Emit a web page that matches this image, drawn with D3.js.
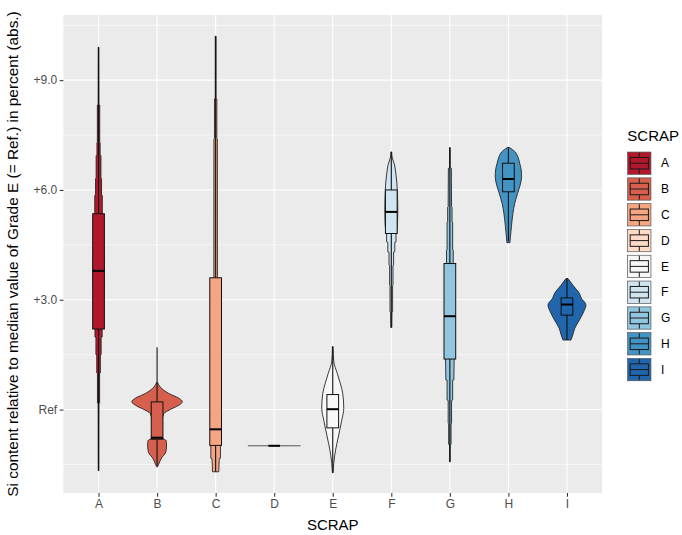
<!DOCTYPE html>
<html>
<head>
<meta charset="utf-8">
<script src="https://cdn.jsdelivr.net/npm/d3@7"></script>
<style>
  html, body { margin: 0; padding: 0; background: #ffffff; }
  svg { display: block; font-family: "Liberation Sans", Arial, sans-serif; }
</style>
</head>
<body>
<svg id="chart" width="682" height="535"></svg>
<script>
// ---------------- data ----------------
const categories = ["A", "B", "C", "D", "E", "F", "G", "H", "I"];
const fillColors = ["#B2182B", "#D6604D", "#F4A582", "#FDDBC7", "#F7F7F7", "#D1E5F0", "#92C5DE", "#4393C3", "#2166AC"];

// box-plot statistics (value relative to Ref, percent abs.)
const whiskerLow  = [-1.67, -1.56, -1.70, -0.99, -1.73, 2.24, -1.43, 4.60, 1.90];
const quartile1   = [ 2.20, -0.81, -0.98, -0.99, -0.50, 4.81,  1.38, 5.95, 2.58];
const medians     = [ 3.79, -0.77, -0.54, -0.99,  0.01, 5.40,  2.55, 6.30, 2.87];
const quartile3   = [ 5.35,  0.21,  3.60, -0.99,  0.41, 6.00,  3.99, 6.73, 3.05];
const whiskerHigh = [ 9.90,  1.70, 10.20, -0.99,  1.72, 7.04,  7.16, 7.16, 3.58];

// violin density profiles: [value, relative density] (peak of B = 100)
const violinA = [[9.9,1.2],[8.33,1.6],[8.32,4.7],[7.3,4.7],[7.29,6.3],[6.95,6.3],[6.94,9.5],[6.32,9.5],[6.31,11.9],[5.86,11.9],[5.85,15],[5.35,15],[4.5,19.8],[3.8,21.7],[3.0,19.8],[2.2,16.6],[2.19,14.2],[1.98,14.2],[1.97,10.3],[1.5,10.3],[1.49,7.1],[1.0,7.1],[0.99,4.3],[0.18,4.3],[0.17,1.6],[-1.67,1.2]];
const violinB = [[0.74,2],[0.62,12],[0.44,46],[0.31,86],[0.21,100],[0.12,86],[-0.01,49],[-0.10,28],[-0.3,20],[-0.6,18],[-0.78,22],[-0.85,36],[-0.95,37.5],[-1.1,36],[-1.2,32],[-1.3,20],[-1.4,12],[-1.5,6],[-1.56,1.6]];
const violinC = [[10.2,1.6],[8.5,1.6],[8.49,4.7],[7.4,4.7],[7.39,6.7],[3.6,7.1],[2.0,12],[0.0,16],[-0.98,19],[-1.33,19],[-1.34,14.6],[-1.70,12.5]];
const violinD = [[-0.99,100]];
const violinE = [[1.72,1.2],[1.31,4],[0.99,17.8],[0.72,29.6],[0.44,39.5],[0.03,43.5],[-0.29,35.6],[-0.56,27.7],[-0.92,16.6],[-1.24,7.9],[-1.47,4],[-1.73,1.2]];
const violinF = [[7.04,1.6],[6.9,3.2],[6.68,13],[6.41,18.6],[6.22,21.7],[6.0,23.7],[5.4,25.7],[4.81,21.7],[4.80,18.6],[4.58,18.6],[4.57,13.8],[4.31,13.8],[4.30,9.1],[3.95,9.1],[3.94,6.7],[3.40,6.7],[3.39,5.1],[2.67,5.1],[2.66,2.8],[2.24,2]];
const violinG = [[7.16,1.2],[6.6,1.2],[6.59,5.9],[5.54,6.7],[5.53,8.7],[5.13,8.7],[5.12,11],[4.36,11],[4.35,13.4],[3.99,13.4],[3.0,17.8],[2.0,17.8],[1.38,17],[0.81,15.8],[0.80,11],[0.26,11],[0.25,6.7],[-0.38,6.7],[-0.39,4.7],[-0.95,4.7],[-0.96,1.4],[-1.43,1.2]];
const violinH = [[7.16,4],[7.04,26.5],[6.90,37.5],[6.73,44.6],[6.55,50.6],[6.36,52.1],[6.13,46.2],[5.91,36.4],[5.63,24.9],[5.36,17.8],[5.0,11.9],[4.72,7.9],[4.56,5.9]];
const violinI = [[3.58,4],[3.40,23],[3.17,49.4],[3.04,57],[2.86,75],[2.67,66],[2.45,49.4],[2.22,30.8],[2.04,23],[1.90,15.8]];
const violins = [violinA, violinB, violinC, violinD, violinE, violinF, violinG, violinH, violinI];

// axis
const yLimits = [-2.28, 10.78];
const yTickValues = [0, 3, 6, 9];
const yTickLabels = ["Ref", "+3.0", "+6.0", "+9.0"];
const yMinorValues = [-1.5, 1.5, 4.5, 7.5, 10.5];
const xTitle = "SCRAP";
const yTitle = "Si content relative to median value of Grade E (= Ref.) in percent (abs.)";
const legendTitle = "SCRAP";

// ---------------- layout ----------------
const panel = { left: 63.4, right: 602.1, top: 15, bottom: 493 };
const svg = d3.select("#chart");

const x = d3.scalePoint().domain(categories).range([panel.left, panel.right]).padding(0.6);
const y = d3.scaleLinear().domain(yLimits).range([panel.bottom, panel.top]);
const dens = d3.scaleLinear().domain([0, 100]).range([0, x.step() * 0.432]);
const boxHalf = x.step() * 0.1;

// panel background
svg.append("rect")
  .attr("x", panel.left).attr("y", panel.top)
  .attr("width", panel.right - panel.left).attr("height", panel.bottom - panel.top)
  .attr("fill", "#EBEBEB");

const grid = svg.append("g");
grid.selectAll(".minor").data(yMinorValues).join("line")
  .attr("x1", panel.left).attr("x2", panel.right)
  .attr("y1", d => y(d)).attr("y2", d => y(d))
  .attr("stroke", "#ffffff").attr("stroke-width", 0.55);
grid.selectAll(".majorY").data(yTickValues).join("line")
  .attr("x1", panel.left).attr("x2", panel.right)
  .attr("y1", d => y(d)).attr("y2", d => y(d))
  .attr("stroke", "#ffffff").attr("stroke-width", 1.1);
grid.selectAll(".majorX").data(categories).join("line")
  .attr("x1", d => x(d)).attr("x2", d => x(d))
  .attr("y1", panel.top).attr("y2", panel.bottom)
  .attr("stroke", "#ffffff").attr("stroke-width", 1.1);

// violins
const marks = svg.append("g");
categories.forEach((c, i) => {
  const cx = x(c);
  const prof = violins[i];
  if (prof.length === 1) {
    marks.append("line")
      .attr("x1", cx - dens(prof[0][1]) * 1.04).attr("x2", cx + dens(prof[0][1]) * 1.04)
      .attr("y1", y(prof[0][0])).attr("y2", y(prof[0][0]))
      .attr("stroke", "#555").attr("stroke-width", 1);
  } else {
    const area = d3.area()
      .curve(d3.curveMonotoneY)
      .y(d => y(d[0]))
      .x0(d => cx - dens(d[1]))
      .x1(d => cx + dens(d[1]));
    marks.append("path")
      .attr("d", area(prof))
      .attr("fill", fillColors[i])
      .attr("stroke", "#262626")
      .attr("stroke-width", 0.9);
  }
});

// boxplots
categories.forEach((c, i) => {
  const cx = x(c);
  const g = marks.append("g");
  g.append("line").attr("x1", cx).attr("x2", cx)
    .attr("y1", y(quartile3[i])).attr("y2", y(whiskerHigh[i]))
    .attr("stroke", "#111").attr("stroke-width", 1.1);
  g.append("line").attr("x1", cx).attr("x2", cx)
    .attr("y1", y(quartile1[i])).attr("y2", y(whiskerLow[i]))
    .attr("stroke", "#111").attr("stroke-width", 1.1);
  g.append("rect")
    .attr("x", cx - boxHalf).attr("width", boxHalf * 2)
    .attr("y", y(quartile3[i])).attr("height", Math.max(0, y(quartile1[i]) - y(quartile3[i])))
    .attr("fill", fillColors[i]).attr("stroke", "#111").attr("stroke-width", 1);
  g.append("line").attr("x1", cx - boxHalf).attr("x2", cx + boxHalf)
    .attr("y1", y(medians[i])).attr("y2", y(medians[i]))
    .attr("stroke", "#000").attr("stroke-width", 2);
});

// axes
const yAxis = svg.append("g")
  .attr("transform", `translate(${panel.left},0)`)
  .call(d3.axisLeft(y).tickValues(yTickValues).tickFormat((d, i) => yTickLabels[i]).tickSize(3.7).tickPadding(2.5));
const xAxis = svg.append("g")
  .attr("transform", `translate(0,${panel.bottom})`)
  .call(d3.axisBottom(x).tickSize(3.7).tickPadding(3));
[yAxis, xAxis].forEach(a => {
  a.select(".domain").remove();
  a.selectAll(".tick line").attr("stroke", "#333333").attr("stroke-width", 1.07);
  a.selectAll(".tick text").attr("fill", "#4D4D4D").style("font-size", "12px")
    .style("font-family", "'Liberation Sans', Arial, sans-serif");
});

// titles
svg.append("text")
  .attr("x", (panel.left + panel.right) / 2).attr("y", 530)
  .attr("text-anchor", "middle").attr("fill", "#000").style("font-size", "15px")
  .text(xTitle);
svg.append("text")
  .attr("transform", `translate(17.5,${(panel.top + panel.bottom) / 2}) rotate(-90)`)
  .attr("text-anchor", "middle").attr("fill", "#000").style("font-size", "15.4px")
  .text(yTitle);

// legend
const legend = svg.append("g").attr("transform", "translate(627.3,0)");
legend.append("text").attr("x", 0).attr("y", 140.5)
  .attr("fill", "#000").style("font-size", "15px").text(legendTitle);
const keyW = 24, keyH = 23, keyStep = 25.8, keyTop = 151.7;
const keys = legend.selectAll(".key").data(categories).join("g")
  .attr("transform", (d, i) => `translate(0,${keyTop + i * keyStep})`);
keys.append("rect").attr("x", 0.35).attr("y", 0.35).attr("width", keyW - 0.7).attr("height", keyH - 0.7)
  .attr("fill", (d, i) => fillColors[i]).attr("stroke", "#555").attr("stroke-width", 0.7);
keys.append("line").attr("x1", keyW / 2).attr("x2", keyW / 2).attr("y1", keyH * 0.04).attr("y2", keyH * 0.96)
  .attr("stroke", "#1a1a1a").attr("stroke-width", 1);
keys.append("rect").attr("x", keyW * 0.12).attr("width", keyW * 0.76)
  .attr("y", keyH * 0.25).attr("height", keyH * 0.5)
  .attr("fill", (d, i) => fillColors[i]).attr("stroke", "#1a1a1a").attr("stroke-width", 1);
keys.append("line").attr("x1", keyW * 0.12).attr("x2", keyW * 0.88).attr("y1", keyH / 2).attr("y2", keyH / 2)
  .attr("stroke", "#1a1a1a").attr("stroke-width", 1);
keys.append("text").attr("x", 33.7).attr("y", keyH / 2).attr("dy", "0.35em")
  .attr("fill", "#000").style("font-size", "12px").text(d => d);
</script>
</body>
</html>
